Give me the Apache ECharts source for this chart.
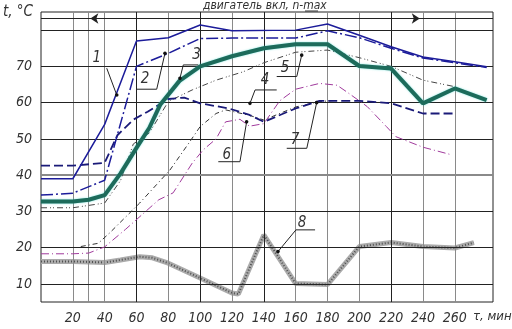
<!DOCTYPE html>
<html>
<head>
<meta charset="utf-8">
<script src="https://cdn.jsdelivr.net/npm/echarts@6/dist/echarts.min.js"></script>
<style>
  html, body { margin: 0; padding: 0; background: #fff; }
  #chart { width: 512px; height: 329px; }
</style>
</head>
<body>
<div id="chart"></div>
<script>
// температура по времени, кривые 1..8
const FONT = "'Liberation Sans Narrow', 'DejaVu Sans Condensed', sans-serif"

const curve1 = [[0, 39], [20, 39], [40, 54], [60, 77], [80, 77.9], [100, 81.4], [120, 79.8], [160, 80], [180, 81.7], [200, 78.6], [220, 75.4], [240, 72.6], [260, 71.3], [280, 69.9]]
const curve2 = [[0, 34.5], [20, 35], [40, 38.6], [60, 70], [80, 73.6], [100, 77.7], [120, 77.8], [160, 77.8], [180, 79.8], [200, 77.9], [220, 75], [240, 72.3], [260, 71], [280, 69.7]]
const curve3 = [[0, 32.7], [20, 32.7], [30, 33.2], [40, 34.5], [50, 40.5], [60, 47.5], [68, 53], [75, 59.5], [87, 66], [100, 70], [120, 72.8], [140, 75], [160, 76.1], [180, 76.1], [200, 70.1], [220, 69.4], [240, 59.8], [260, 63.9], [280, 60.7]]
const curve4 = [[0, 42.6], [20, 42.6], [40, 43.4], [48, 51], [58, 55.3], [67, 57.5], [80, 61], [90, 61.4], [100, 59.8], [118, 58.4], [131, 56.6], [140, 54.7], [160, 58.4], [175, 60.5], [200, 60.5], [220, 59.8], [240, 57], [260, 57]]
const curve5 = [[0, 31], [20, 31], [40, 32.3], [50, 38.5], [58, 48.6], [68, 51.6], [80, 60.3], [95, 63.5], [110, 66.2], [127, 68.5], [140, 71], [160, 73.9], [180, 74.5], [200, 72.4], [220, 70], [240, 66.2], [260, 64.4]]
const curve6 = [[0, 18.3], [20, 18.3], [30, 18.5], [40, 20.2], [53, 25], [74, 33.2], [83, 35.1], [95, 43.3], [102, 47], [110, 50], [116, 54.7], [125, 55.4], [131, 53.5], [140, 54.2], [150, 60.5], [160, 63.7], [175, 65.3], [186, 64.8], [192, 63], [205, 58.9], [217, 53.4], [223, 50.6], [240, 47.7], [258, 45.6]]
const curve7 = [[25, 20.3], [36, 21.2], [43, 24], [62, 32.3], [81, 41.4], [93, 48.9], [100, 53.4], [110, 57], [116, 58], [131, 56.5], [140, 55.2], [160, 58.8], [175, 60.3], [185, 60.6]]
const curve8 = [[0, 16.2], [20, 16.2], [40, 15.9], [50, 16.6], [62, 17.5], [70, 17.2], [80, 15.7], [100, 11.6], [120, 7.5], [124, 7.2], [140, 23.5], [160, 10.1], [180, 9.8], [200, 20.3], [220, 21.4], [240, 20.3], [260, 19.9], [272, 21.4]]

// сетка
const xGridVals = [20, 30, 40, 60, 80, 100, 120, 140, 160, 180, 200, 220, 240, 260]
const yGridVals = [10, 20, 30, 40, 50, 60, 70, 80, 83.2]
const xDark = [60, 100, 140, 220]
const yGrey = [40]
// двигатель вкл, n-max: от .. до
const engineOn = [31, 238]
const engineLevel = 83.2

// выноски: номер, место текста, ломаная до кривой
const notes = [
    { text: '1', at: [35, 72.3], path: [[41.3, 69.5], [47.6, 62.1]] },
    { text: '2', at: [65.3, 66.4], path: [[60.1, 63.7], [72.7, 63.7], [77.9, 73.6]] },
    { text: '3', at: [97.8, 73.1], path: [[98.8, 70.4], [89.4, 70.4], [87.3, 66.7]] },
    { text: '4', at: [140.7, 66.2], path: [[148.1, 63.5], [134.5, 63.5], [131.3, 59.8]] },
    { text: '5', at: [153.3, 69.5], path: [[148.1, 67.2], [160.7, 67.2], [163.8, 73.1]] },
    { text: '6', at: [116.7, 45.6], path: [[111.4, 43.7], [125, 43.7], [129.2, 54.7]] },
    { text: '7', at: [159.6, 49.7], path: [[154.4, 47.4], [167, 47.4], [173.2, 60]] },
    { text: '8', at: [164, 26.9], path: [[172.2, 24.9], [160.2, 24.9], [148.9, 18.9]] }
]

let chart = echarts.init(document.getElementById('chart'), null, { renderer: 'canvas' })

const gridLines = []
xGridVals.forEach(v => {
    gridLines.push({ xAxis: v, lineStyle: { color: xDark.indexOf(v) > -1 ? '#222' : '#8a8a8a', width: 1, type: 'solid' } })
})
yGridVals.forEach(v => {
    let grey = yGrey.indexOf(v) > -1
    gridLines.push({ yAxis: v, lineStyle: { color: grey ? '#8a8a8a' : '#222', width: grey ? 2 : 1, type: 'solid' } })
})

function line(data, style, z) {
    return {
        type: 'line',
        data: data,
        symbol: 'none',
        smooth: false,
        silent: true,
        z: z || 3,
        lineStyle: style
    }
}

let option = {
    animation: false,
    grid: { left: 41, right: 19, top: 12, bottom: 27, show: true, borderColor: '#222', borderWidth: 1, backgroundColor: 'transparent' },
    xAxis: {
        type: 'value', min: 0, max: 284, interval: 20,
        axisLine: { show: false }, axisTick: { show: false }, splitLine: { show: false },
        axisLabel: {
            margin: 9, fontSize: 14, fontStyle: 'italic', fontFamily: FONT, color: '#333',
            formatter: v => (v > 0 && v < 280 ? String(v) : '')
        }
    },
    yAxis: {
        type: 'value', min: 5, max: 85, interval: 5,
        axisLine: { show: false }, axisTick: { show: false }, splitLine: { show: false },
        axisLabel: {
            margin: 9, fontSize: 14, fontStyle: 'italic', fontFamily: FONT, color: '#333',
            padding: [0, 0, 9, 0],
            formatter: v => (v % 10 === 0 && v >= 10 && v <= 70 ? String(v) : '')
        }
    },
    series: [
        {
            type: 'line', data: [], silent: true, z: 1,
            markLine: { silent: true, symbol: 'none', animation: false, label: { show: false }, data: gridLines }
        },
        {
            type: 'line', data: [], silent: true, z: 2,
            markLine: {
                silent: true, animation: false, symbol: ['arrow', 'arrow'], symbolSize: 8,
                label: { show: false },
                lineStyle: { color: '#222', width: 1, type: 'solid' },
                data: [[{ coord: [engineOn[0], engineLevel] }, { coord: [engineOn[1], engineLevel] }]]
            }
        },
        line(curve8, { color: '#ababab', width: 5 }, 3),
        line(curve8, { color: '#505050', width: 2, type: [1, 2] }, 4),
        line(curve7, { color: '#333', width: 1, type: [5, 3, 1, 3] }, 5),
        line(curve6, { color: '#a03a9c', width: 1, type: [8, 3, 1, 3] }, 5),
        line(curve5, { color: '#444', width: 1, type: [6, 3, 1, 2, 1, 3] }, 5),
        line(curve4, { color: '#1a1a78', width: 1.8, type: [9, 4] }, 6),
        line(curve2, { color: '#1c1c9a', width: 1.5, type: [12, 3, 2, 3] }, 6),
        line(curve1, { color: '#1c1c9a', width: 1.5 }, 6),
        line(curve3, { color: '#1d6b5b', width: 4, shadowColor: 'rgba(40,210,200,0.6)', shadowBlur: 2 }, 7)
    ]
}
chart.setOption(option)

// подписи и выноски
let graphics = [
    { type: 'text', left: 3, top: 5, style: { text: 't, °C', font: 'italic 15px ' + FONT, fill: '#333' } },
    { type: 'text', left: 473, top: 310, style: { text: 'τ, мин', font: 'italic 13px ' + FONT, fill: '#333' } },
    { type: 'text', left: 203, top: 0, style: { text: 'двигатель вкл, n-max', font: 'italic 12px ' + FONT, fill: '#333' } },
    { type: 'line', shape: { x1: 305, y1: 11, x2: 318, y2: 11 }, style: { stroke: '#333', lineWidth: 1 } }
]
notes.forEach(n => {
    let p = n.path.map(c => chart.convertToPixel('grid', c))
    let t = chart.convertToPixel('grid', n.at)
    graphics.push({ type: 'polyline', shape: { points: p }, style: { stroke: '#222', lineWidth: 1, fill: null }, z: 20 })
    let end = p[p.length - 1]
    graphics.push({ type: 'circle', shape: { cx: end[0], cy: end[1], r: 1.8 }, style: { fill: '#111' }, z: 21 })
    graphics.push({
        type: 'text', x: t[0], y: t[1], z: 21,
        style: { text: n.text, font: 'italic 15px ' + FONT, fill: '#333', align: 'center', verticalAlign: 'middle' }
    })
})
chart.setOption({ graphic: graphics })
</script>
</body>
</html>
